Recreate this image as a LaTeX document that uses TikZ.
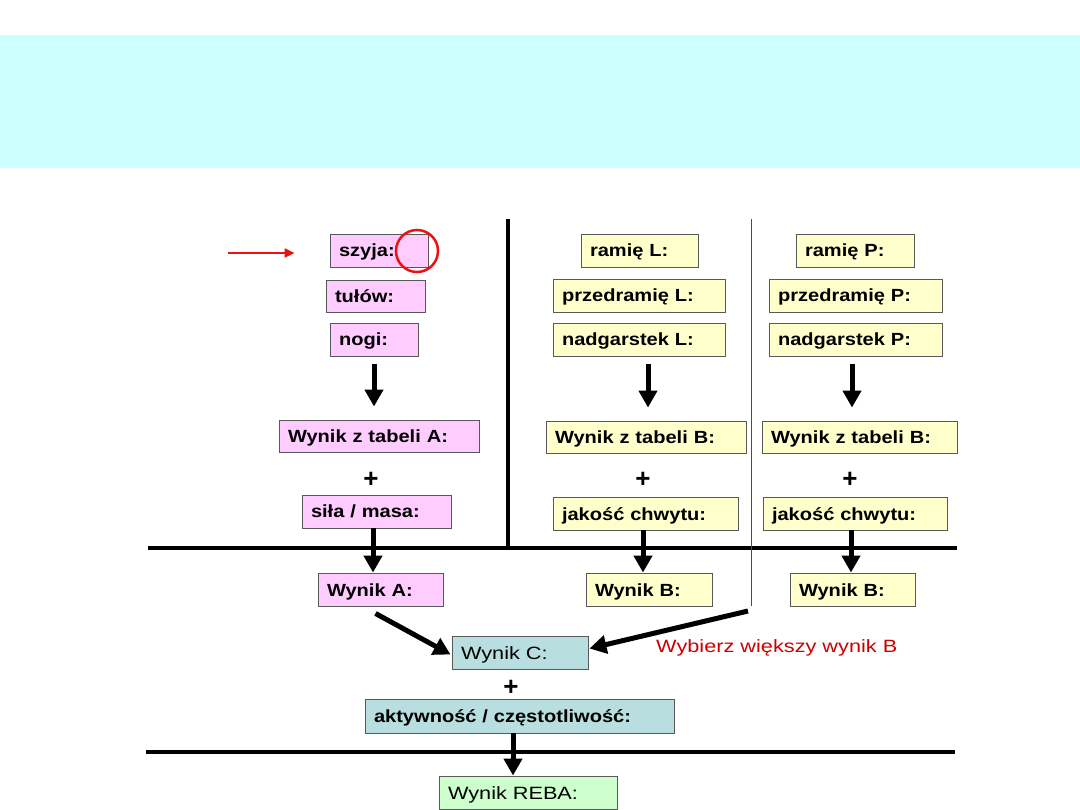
\documentclass[tikz,border=0pt]{standalone}
\usepackage{fontspec}
\setmainfont{Liberation Sans}
\newfontfamily\wideb{Liberation Sans}[FakeStretch=1.14]
\newfontfamily\wider{Liberation Sans}[FakeStretch=1.22]
\usetikzlibrary{arrows.meta,calc}
\definecolor{pk}{HTML}{FFCCFF}
\definecolor{yl}{HTML}{FFFFCC}
\definecolor{tl}{HTML}{B9DEE0}
\definecolor{gr}{HTML}{CCFFCC}
\definecolor{band}{HTML}{CCFFFF}
\definecolor{rd}{HTML}{CC0000}
\definecolor{mk}{HTML}{EE1111}
\begin{document}
\begin{tikzpicture}[x=1pt,y=-1pt,
  box/.style={draw=black!65, line width=0.9pt, inner xsep=9pt, inner ysep=0pt,
    minimum height=33pt, align=left, text height=13.5pt, text depth=0.5pt,
    font=\wideb\fontsize{17.6}{22}\selectfont\bfseries},
  nb/.style={box, font=\wider\fontsize{17.8}{22}\selectfont},
  bigarrow/.style={line width=5pt, -{Triangle[width=18pt,length=17pt]}},
  thickline/.style={line width=4.5pt},
  plus/.style={font=\fontsize{26}{26}\selectfont\bfseries, inner sep=0pt}]
\useasboundingbox (0,0) rectangle (1080,810);
\fill[band] (0,35) rectangle (1080,168);
% separators
\coordinate (vt) at (508,219); \coordinate (vb) at (508,548);
\coordinate (hl) at (148,548); \coordinate (hr) at (957,548);
\coordinate (tt) at (751,219); \coordinate (tb) at (751,606);
\coordinate (bl) at (146,752); \coordinate (br) at (955,752);
\draw[thickline] (vt) -- (vb);
\draw[thickline] (hl) -- (hr);
\draw[black!70, line width=0.9pt] (tt) -- (tb);
\draw[thickline] (bl) -- (br);
% column A
\node[box, fill=pk, minimum width=98pt, text width=80pt, minimum height=33pt] (szyja) at (379,250.5) {\mbox{szyja:}};
\node[box, fill=pk, minimum width=99pt, text width=81pt, minimum height=32pt] (tulow) at (375.5,296) {\mbox{tułów:}};
\node[box, fill=pk, minimum width=88pt, text width=70pt] (nogi) at (374,339.5) {\mbox{nogi:}};
\node[box, fill=pk, minimum width=200pt, text width=182pt, minimum height=32pt] (tabA) at (379,436) {\mbox{Wynik z tabeli A:}};
\node[plus] (plA) at (371,480) {+};
\node[box, fill=pk, minimum width=149pt, text width=131pt] (sila) at (376.5,511.5) {\mbox{siła / masa:}};
\node[box, fill=pk, minimum width=125pt, text width=107pt] (wA) at (380.5,589.5) {\mbox{Wynik A:}};
% column L
\node[box, fill=yl, minimum width=117pt, text width=99pt] (ramL) at (639.5,250.5) {\mbox{ramię L:}};
\node[box, fill=yl, minimum width=172pt, text width=154pt] (przL) at (639,295.5) {\mbox{przedramię L:}};
\node[box, fill=yl, minimum width=172pt, text width=154pt] (nadL) at (639,339.5) {\mbox{nadgarstek L:}};
\node[box, fill=yl, minimum width=200pt, text width=182pt, minimum height=32pt] (tabBL) at (646,437) {\mbox{Wynik z tabeli B:}};
\node[plus] (plL) at (643,480) {+};
\node[box, fill=yl, minimum width=185pt, text width=167pt] (jakL) at (645.5,513.5) {\mbox{jakość chwytu:}};
\node[box, fill=yl, minimum width=126pt, text width=108pt] (wBL) at (649,589.5) {\mbox{Wynik B:}};
% column P
\node[box, fill=yl, minimum width=118pt, text width=100pt] (ramP) at (855,250.5) {\mbox{ramię P:}};
\node[box, fill=yl, minimum width=173pt, text width=155pt] (przP) at (855.5,295.5) {\mbox{przedramię P:}};
\node[box, fill=yl, minimum width=173pt, text width=155pt] (nadP) at (855.5,339.5) {\mbox{nadgarstek P:}};
\node[box, fill=yl, minimum width=195pt, text width=177pt, minimum height=32pt] (tabBP) at (859.5,437) {\mbox{Wynik z tabeli B:}};
\node[plus] (plP) at (850,480) {+};
\node[box, fill=yl, minimum width=184pt, text width=166pt] (jakP) at (855,513.5) {\mbox{jakość chwytu:}};
\node[box, fill=yl, minimum width=125pt, text width=107pt] (wBP) at (852.5,589.5) {\mbox{Wynik B:}};
% bottom
\node[nb, fill=tl, minimum width=136pt, text width=118pt] (wC) at (520,652.5) {\mbox{Wynik C:}};
\node[plus] (plC) at (511,688) {+};
\node[box, fill=tl, minimum width=309pt, text width=291pt, minimum height=34pt] (akt) at (519.5,716) {\mbox{aktywność / częstotliwość:}};
\node[nb, fill=gr, minimum width=178pt, text width=160pt] (reba) at (528,792.5) {\mbox{Wynik REBA:}};
\node[text=rd, anchor=west, inner sep=0pt, font=\wider\fontsize{17.8}{22}\selectfont] (wyb) at (656,648) {Wybierz większy wynik B};
% arrows
\draw[bigarrow] ($(nogi.south)+(0,8)$) -- ($(nogi.south|-tabA.north)+(0,-13)$);
\draw[bigarrow] ($(nadL.south)+(9,8)$) -- ($(nadL.south|-tabBL.north)+(9,-13)$);
\draw[bigarrow] ($(nadP.south)+(-3.5,8)$) -- ($(nadP.south|-tabBP.north)+(-3.5,-13)$);
\draw[bigarrow] ($(sila.south)+(-3.5,0)$) -- ($(sila.south|-wA.north)+(-3.5,0)$);
\draw[bigarrow] ($(jakL.south)+(-2.5,0)$) -- ($(jakL.south|-wBL.north)+(-2.5,0)$);
\draw[bigarrow] ($(jakP.south)+(-4,0)$) -- ($(jakP.south|-wBP.north)+(-4,0)$);
\draw[bigarrow] ($(akt.south)+(-6.5,0)$) -- ($(akt.south|-reba.north)+(-6.5,0)$);
\draw[bigarrow] ($(wA.south)+(-5,7)$) -- ($(wC.west)+(-1,2)$);
\coordinate (bsel) at (748,611);
\draw[bigarrow] (bsel) -- ($(wC.east)+(1,-4)$);
% red marker
\coordinate (ra) at (228,253);
\draw[mk, line width=2.2pt, -{Triangle[width=9pt,length=10pt]}] (ra) -- ($(szyja.west)+(-35,2.5)$);
\node[draw=mk, line width=2.5pt, circle, minimum size=42pt, inner sep=0pt] (circ) at (417,251) {};
\end{tikzpicture}
\end{document}
